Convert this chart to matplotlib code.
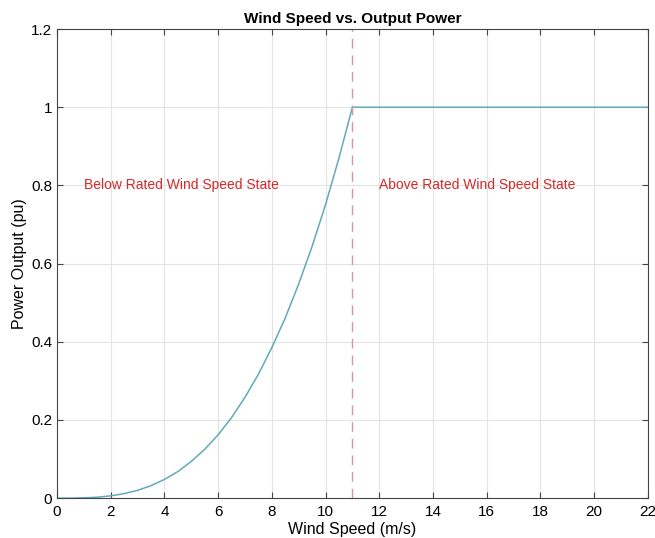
import matplotlib.pyplot as plt
import numpy as np

# wind speed (m/s) and power output (pu)
wind_speed = [0, 0.5, 1, 1.5, 2, 2.5, 3, 3.5, 4, 4.5, 5, 5.5, 6, 6.5, 7, 7.5,
              8, 8.5, 9, 9.5, 10, 10.5, 11, 22]
power_pu = [0, 0.0001, 0.001, 0.0025, 0.006, 0.0117, 0.02, 0.032, 0.048, 0.068,
            0.094, 0.125, 0.162, 0.206, 0.258, 0.317, 0.385, 0.461, 0.548,
            0.644, 0.751, 0.870, 1.0, 1.0]
rated_speed = 11
x_ticks = [0, 2, 4, 6, 8, 10, 12, 14, 16, 18, 20, 22]
y_ticks = [0, 0.2, 0.4, 0.6, 0.8, 1, 1.2]
y_tick_labels = ["0", "0.2", "0.4", "0.6", "0.8", "1", "1.2"]

plt.rcParams['font.family'] = ['Liberation Sans', 'DejaVu Sans']

fig = plt.figure(figsize=(6.55, 5.38), dpi=100)
ax = fig.add_axes([0.087, 0.074, 0.902, 0.872])

ax.plot(wind_speed, power_pu, color='#62aab9', linewidth=1.1)
ax.axvline(rated_speed, color='#d9959f', linestyle=(0, (7, 5)), linewidth=1.0)

ax.text(1, 0.8, "Below Rated Wind Speed State", color='#d42a2a', fontsize=10, va='center')
ax.text(12, 0.8, "Above Rated Wind Speed State", color='#d42a2a', fontsize=10, va='center')

ax.set_xlim(0, 22)
ax.set_ylim(0, 1.2)
ax.set_xticks(x_ticks)
ax.set_yticks(y_ticks)
ax.set_yticklabels(y_tick_labels)
ax.tick_params(direction='in', top=True, right=True, labelsize=11, length=4,
               color='#444444')
ax.tick_params(axis='x', pad=5)
ax.grid(True, color='#e3e3e3', linewidth=0.8)
ax.set_axisbelow(True)
for s in ax.spines.values():
    s.set_color('#444444')
    s.set_linewidth(0.8)

ax.set_title("Wind Speed vs. Output Power", fontsize=11, fontweight='bold', pad=4)
ax.set_xlabel("Wind Speed (m/s)", fontsize=11.5, labelpad=2)
ax.set_ylabel("Power Output (pu)", fontsize=11.5, labelpad=3)

fig.savefig("out.png", dpi=100)
